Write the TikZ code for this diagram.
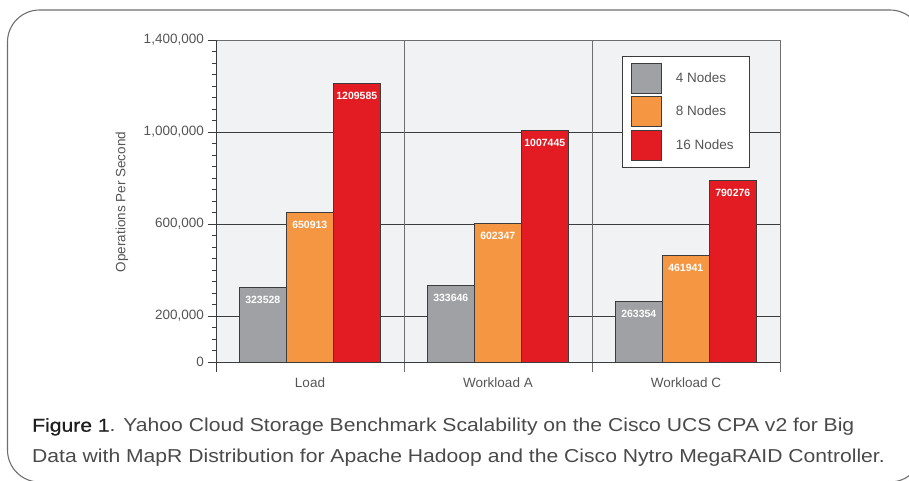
\documentclass[tikz,border=0pt]{standalone}
\usepackage{fontspec}
\setmainfont{Liberation Sans}
\newfontfamily\capfont[FakeStretch=1.13]{Liberation Sans}
\newfontfamily\capfontbold[FakeStretch=1.13,FakeBold=0.8]{Liberation Sans}
\definecolor{plotbg}{HTML}{F1F2F4}
\definecolor{gbar}{HTML}{A0A1A5}
\definecolor{obar}{HTML}{F59643}
\definecolor{rbar}{HTML}{E31B23}
\definecolor{txt}{HTML}{555555}
\definecolor{captxt}{HTML}{4A4A4A}
\definecolor{capdark}{HTML}{1E1E1E}
\definecolor{gridc}{HTML}{3C3C3C}
\definecolor{framec}{HTML}{6E6E6E}
\newcommand\drawbar[5]{%
  \pgfmathsetmacro\ytop{362-#3*0.23}
  \draw[barline, fill=#5] (#2,362) rectangle (#2+47,\ytop);
  \node[barlabel] (#1) at (#2+23.5,\ytop+12.3) {#4};
}
\begin{document}
\begin{tikzpicture}[x=1pt,y=-1pt,
  boxline/.style={draw=framec, line width=1.1pt},
  gridline/.style={draw=gridc, line width=0.9pt},
  sepline/.style={draw=framec, line width=0.9pt},
  barline/.style={draw=gridc, line width=0.9pt},
  barlabel/.style={text=white, font=\fontsize{10.5}{12}\bfseries\selectfont, inner sep=0pt},
  axlabel/.style={text=txt, font=\fontsize{13.5}{16}\selectfont, inner sep=0pt},
  leglabel/.style={text=txt, font=\fontsize{13.5}{16}\selectfont, inner sep=0pt, anchor=west},
  caption/.style={text=captxt, font=\capfont\fontsize{18.7}{22}\selectfont, inner sep=0pt, anchor=base west}]
\useasboundingbox (0,0) rectangle (909,480);
% outer rounded frame (partly cut by the page)
\begin{scope}
\clip (0,0) rectangle (909,480);
\draw[boxline, rounded corners=32pt] (7.5,10) rectangle (922,482);
\end{scope}
% plot area
\fill[plotbg] (216,40) rectangle (780,362);
\foreach \v in {200,600,1000} {
  \draw[gridline] (216,{362-\v*0.23}) -- (780,{362-\v*0.23});
}
\draw[sepline] (404,40) -- (404,372);
\draw[sepline] (592,40) -- (592,372);
\draw[sepline] (216,40) -- (780,40) -- (780,372);
% bars
\drawbar{l4}{239.3}{323.528}{323528}{gbar}
\drawbar{l8}{286.3}{650.913}{650913}{obar}
\drawbar{l16}{333.3}{1209.585}{1209585}{rbar}
\drawbar{a4}{427.3}{333.646}{333646}{gbar}
\drawbar{a8}{474.3}{602.347}{602347}{obar}
\drawbar{a16}{521.3}{1007.445}{1007445}{rbar}
\drawbar{c4}{615.3}{263.354}{263354}{gbar}
\drawbar{c8}{662.3}{461.941}{461941}{obar}
\drawbar{c16}{709.3}{790.276}{790276}{rbar}
% axes
\draw[gridline] (216,362) -- (780,362);
\draw[gridline] (216,40) -- (216,372);
\foreach \k in {0,50,...,1400} {
  \draw[gridline] (212,{362-\k*0.23}) -- (216,{362-\k*0.23});
}
\foreach \k/\t/\n in {0/0/y0,200/{200,000}/y1,600/{600,000}/y2,1000/{1,000,000}/y3,1400/{1,400,000}/y4} {
  \draw[gridline] (207.5,{362-\k*0.23}) -- (216,{362-\k*0.23});
  \node[axlabel, anchor=east] (\n) at (204,{362-\k*0.23}) {\t};
}
\node[axlabel, rotate=90] (ytitle) at (122,202) {Operations Per Second};
\node[axlabel] (catL) at (310,382.5) {Load};
\node[axlabel] (catA) at (498,382.5) {Workload A};
\node[axlabel] (catC) at (686,382.5) {Workload C};
% legend
\draw[draw=gridc, line width=0.9pt, fill=white] (622.7,56) rectangle (749.3,167);
\draw[barline, fill=gbar] (631,63) rectangle (661.3,93);
\draw[barline, fill=obar] (631,96.7) rectangle (661.3,126.7);
\draw[barline, fill=rbar] (631,130.3) rectangle (661.3,160.3);
\node[leglabel] (leg4) at (675.7,77.5) {4 Nodes};
\node[leglabel] (leg8) at (675.7,110.8) {8 Nodes};
\node[leglabel] (leg16) at (675.7,144.5) {16 Nodes};
% caption
\node[caption] (cap1) at (32,431.7) {{\capfontbold\color{capdark}Figure 1}. Yahoo Cloud Storage Benchmark Scalability on the Cisco UCS CPA v2 for Big};
\node[caption] (cap2) at (32,462.7) {Data with MapR Distribution for Apache Hadoop and the Cisco Nytro MegaRAID Controller.};
\end{tikzpicture}
\end{document}
